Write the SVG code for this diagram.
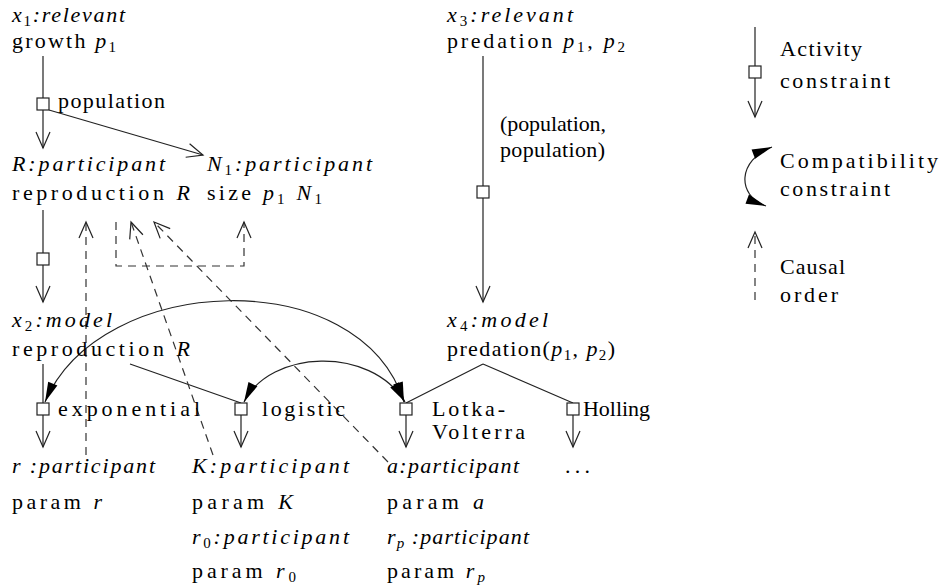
<svg xmlns="http://www.w3.org/2000/svg" width="940" height="587" viewBox="0 0 940 587" font-family="'Liberation Serif', serif">
<defs>
<style>
text{font-family:'Liberation Serif',serif;font-size:22px;fill:#000}
.i{font-style:italic}
.s{font-size:15px}
.ln{stroke:#222;stroke-width:1.2;fill:none}
.da{stroke:#333;stroke-width:1.2;fill:none;stroke-dasharray:8 6}
.sq{fill:#fff;stroke:#222;stroke-width:1.2}
</style>
<marker id="open" viewBox="-18 -9 20 18" refX="0" refY="0" markerWidth="20" markerHeight="18" markerUnits="userSpaceOnUse" orient="auto">
<path d="M-16,-7 L0,0 L-16,7" fill="none" stroke="#222" stroke-width="1.2" stroke-dasharray="none"/>
</marker>
<marker id="fill" viewBox="-22 -6 23 12" refX="0" refY="0" markerWidth="23" markerHeight="12" markerUnits="userSpaceOnUse" orient="auto-start-reverse">
<path d="M-20,-5 L0,0 L-20,5 z" fill="#000"/>
</marker>
</defs>
<rect width="940" height="587" fill="#fff"/>

<g id="connectors">
<path class="ln" d="M43,56 V98 M43,110 V148" marker-end="url(#open)"/>
<path class="ln" d="M49,110 L203,155" marker-end="url(#open)"/>
<path class="ln" d="M43,210 V253 M43,265 V302" marker-end="url(#open)"/>
<path class="ln" d="M483,56 V186 M483,198 V302" marker-end="url(#open)"/>
<path class="ln" d="M43,364 V403 M43,415 V447" marker-end="url(#open)"/>
<path class="ln" d="M130,364 L241,403 M241,415 V447" marker-end="url(#open)"/>
<path class="ln" d="M483,364 L406,403 M406,415 V447" marker-end="url(#open)"/>
<path class="ln" d="M483,364 L573,403 M573,415 V447" marker-end="url(#open)"/>
<path class="da" d="M86,455 V222" marker-end="url(#open)"/>
<path class="da" d="M116,222 V266 H244 V222" marker-end="url(#open)"/>
<path class="da" d="M213,455 L131,222" marker-end="url(#open)"/>
<path class="da" d="M388,462 L154,222" marker-end="url(#open)"/>
<path class="ln" d="M45,402 C100,272 360,262 404,402" marker-start="url(#fill)" marker-end="url(#fill)"/>
<path class="ln" d="M244,402 C270,350 370,345 405,402" marker-start="url(#fill)" marker-end="url(#fill)"/>
</g>

<g id="squares">
<rect class="sq" x="37" y="98" width="12" height="12"/>
<rect class="sq" x="37" y="253" width="12" height="12"/>
<rect class="sq" x="477" y="186" width="12" height="12"/>
<rect class="sq" x="37" y="403" width="12" height="12"/>
<rect class="sq" x="235" y="403" width="12" height="12"/>
<rect class="sq" x="400" y="403" width="12" height="12"/>
<rect class="sq" x="567" y="403" width="12" height="12"/>
</g>

<g id="x1">
<text x="12" y="22" textLength="113" lengthAdjust="spacing"><tspan class="i">x</tspan><tspan class="s" dy="4">1</tspan><tspan class="i" dy="-4">:relevant</tspan></text>
<text x="12" y="48" textLength="104" lengthAdjust="spacing">growth <tspan class="i">p</tspan><tspan class="s" dy="4">1</tspan></text>
</g>
<text id="lbl-population" x="58" y="108" textLength="107" lengthAdjust="spacing">population</text>
<g id="R">
<text x="12" y="171" class="i" textLength="153" lengthAdjust="spacing">R:participant</text>
<text x="12" y="200" textLength="178" lengthAdjust="spacing">reproduction <tspan class="i">R</tspan></text>
</g>
<g id="N1">
<text x="207" y="171" textLength="165" lengthAdjust="spacing"><tspan class="i">N</tspan><tspan class="s" dy="4">1</tspan><tspan class="i" dy="-4">:participant</tspan></text>
<text x="207" y="200" textLength="115" lengthAdjust="spacing">size <tspan class="i">p</tspan><tspan class="s" dy="4">1</tspan><tspan dy="-4"> </tspan><tspan class="i">N</tspan><tspan class="s" dy="4">1</tspan></text>
</g>
<g id="x3">
<text x="447" y="22" textLength="126" lengthAdjust="spacing"><tspan class="i">x</tspan><tspan class="s" dy="4">3</tspan><tspan class="i" dy="-4">:relevant</tspan></text>
<text x="447" y="48" textLength="178" lengthAdjust="spacing">predation <tspan class="i">p</tspan><tspan class="s" dy="4">1</tspan><tspan dy="-4">, </tspan><tspan class="i">p</tspan><tspan class="s" dy="4">2</tspan></text>
</g>
<g id="lbl-pp">
<text x="500" y="131" textLength="106" lengthAdjust="spacing">(population,</text>
<text x="500" y="157" textLength="105" lengthAdjust="spacing">population)</text>
</g>
<g id="x2">
<text x="12" y="327" textLength="100" lengthAdjust="spacing"><tspan class="i">x</tspan><tspan class="s" dy="4">2</tspan><tspan class="i" dy="-4">:model</tspan></text>
<text x="12" y="356" textLength="178" lengthAdjust="spacing">reproduction <tspan class="i">R</tspan></text>
</g>
<g id="x4">
<text x="447" y="327" textLength="101" lengthAdjust="spacing"><tspan class="i">x</tspan><tspan class="s" dy="4">4</tspan><tspan class="i" dy="-4">:model</tspan></text>
<text x="447" y="356" textLength="168" lengthAdjust="spacing">predation(<tspan class="i">p</tspan><tspan class="s" dy="4">1</tspan><tspan dy="-4">, </tspan><tspan class="i">p</tspan><tspan class="s" dy="4">2</tspan><tspan dy="-4">)</tspan></text>
</g>
<g id="alt-labels">
<text x="58" y="416" textLength="142" lengthAdjust="spacing">exponential</text>
<text x="262" y="416" textLength="83" lengthAdjust="spacing">logistic</text>
<text x="432" y="416" textLength="73" lengthAdjust="spacing">Lotka-</text>
<text x="432" y="439" textLength="93" lengthAdjust="spacing">Volterra</text>
<text x="583" y="416" textLength="67" lengthAdjust="spacing">Holling</text>
</g>
<g id="r">
<text x="12" y="473" textLength="143" lengthAdjust="spacing"><tspan class="i">r</tspan><tspan class="i"> :participant</tspan></text>
<text x="12" y="509" textLength="90" lengthAdjust="spacing">param <tspan class="i">r</tspan></text>
</g>
<g id="K">
<text x="192" y="473" class="i" textLength="157" lengthAdjust="spacing">K:participant</text>
<text x="192" y="509" textLength="101" lengthAdjust="spacing">param <tspan class="i">K</tspan></text>
</g>
<g id="r0">
<text x="192" y="544" textLength="157" lengthAdjust="spacing"><tspan class="i">r</tspan><tspan class="s" dy="4">0</tspan><tspan class="i" dy="-4">:participant</tspan></text>
<text x="192" y="578" textLength="104" lengthAdjust="spacing">param <tspan class="i">r</tspan><tspan class="s" dy="4">0</tspan></text>
</g>
<g id="a">
<text x="387" y="473" class="i" textLength="132" lengthAdjust="spacing">a:participant</text>
<text x="387" y="509" textLength="97" lengthAdjust="spacing">param <tspan class="i">a</tspan></text>
</g>
<g id="rp">
<text x="387" y="544" textLength="142" lengthAdjust="spacing"><tspan class="i">r</tspan><tspan class="s i" dy="4">p</tspan><tspan class="i" dy="-4"> :participant</tspan></text>
<text x="387" y="578" textLength="98" lengthAdjust="spacing">param <tspan class="i">r</tspan><tspan class="s i" dy="4">p</tspan></text>
</g>
<text id="dots" x="565" y="473" textLength="25" lengthAdjust="spacing">...</text>

<g id="legend">
<path class="ln" d="M755,27 V66 M755,78 V117" marker-end="url(#open)"/>
<rect class="sq" x="749" y="66" width="12" height="12"/>
<text x="780" y="56" textLength="82" lengthAdjust="spacing">Activity</text>
<text x="780" y="88" textLength="110" lengthAdjust="spacing">constraint</text>
<path class="ln" d="M772,147 C738,160 736,195 766,206" marker-start="url(#fill)" marker-end="url(#fill)"/>
<text x="780" y="168" textLength="158" lengthAdjust="spacing">Compatibility</text>
<text x="780" y="196" textLength="110" lengthAdjust="spacing">constraint</text>
<path class="da" d="M755,300 V232" marker-end="url(#open)"/>
<text x="780" y="274" textLength="65" lengthAdjust="spacing">Causal</text>
<text x="780" y="302" textLength="58" lengthAdjust="spacing">order</text>
</g>
</svg>
